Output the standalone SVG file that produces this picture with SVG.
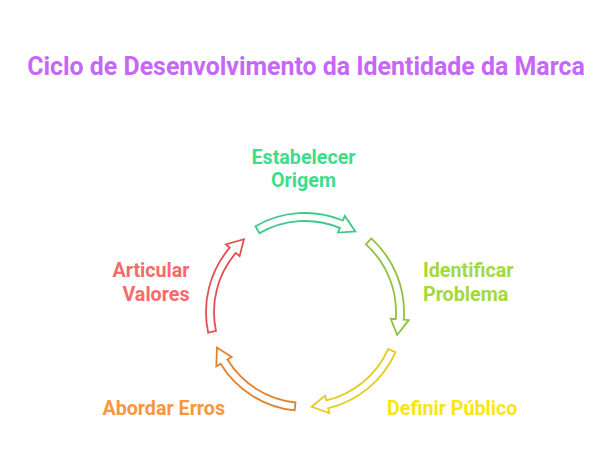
<svg xmlns="http://www.w3.org/2000/svg" xmlns:xlink="http://www.w3.org/1999/xlink" width="612" height="468" viewBox="0 0 612 468">
<style>
text{font-family:Roboto,"Liberation Sans",sans-serif;font-weight:bold}
.t{font-size:24.9px;fill:#c767f7}
.l{font-size:19.7px}
.arr{fill:#fff;stroke-width:1.8;stroke-linejoin:miter}
</style>
<defs>
<path id="arc" d="M 91 0 L 99 0 A 99 99 0 0 1 60.27 78.55 L 63.31 82.51 L 44.60 83.88 L 52.36 68.23 L 55.40 72.20 A 91 91 0 0 0 91 0 Z"/>
</defs>
<rect width="612" height="468" fill="#fff"/>
<text class="t" x="306" y="75" text-anchor="middle">Ciclo de Desenvolvimento da Identidade da Marca</text>
<g id="connectors">
<use xlink:href="#arc" class="arr" stroke="#3ec98a" transform="translate(305,312) rotate(-120)"/>
<use xlink:href="#arc" class="arr" stroke="#8fc23a" transform="translate(305,312) rotate(-48)"/>
<use xlink:href="#arc" class="arr" stroke="#e3cc1c" transform="translate(305,312) rotate(24)"/>
<use xlink:href="#arc" class="arr" stroke="#e0832f" transform="translate(305,312) rotate(96)"/>
<use xlink:href="#arc" class="arr" stroke="#e05252" transform="translate(305,312) rotate(168)"/>
</g>
<g id="n1"><text class="l" fill="#3fdc8d" x="303.5" y="163.5" text-anchor="middle">Estabelecer</text><text class="l" fill="#3fdc8d" x="303.5" y="187" text-anchor="middle">Origem</text></g>
<g id="n2"><text class="l" fill="#a3d93a" x="423" y="277" text-anchor="start">Identificar</text><text class="l" fill="#a3d93a" x="423" y="300.5" text-anchor="start">Problema</text></g>
<g id="n3"><text class="l" fill="#f7e60f" x="387" y="415" text-anchor="start">Definir Público</text></g>
<g id="n4"><text class="l" fill="#f7973d" x="225" y="415" text-anchor="end">Abordar Erros</text></g>
<g id="n5"><text class="l" fill="#f76a6a" x="189.5" y="277" text-anchor="end">Articular</text><text class="l" fill="#f76a6a" x="189.5" y="300.5" text-anchor="end">Valores</text></g>
</svg>
